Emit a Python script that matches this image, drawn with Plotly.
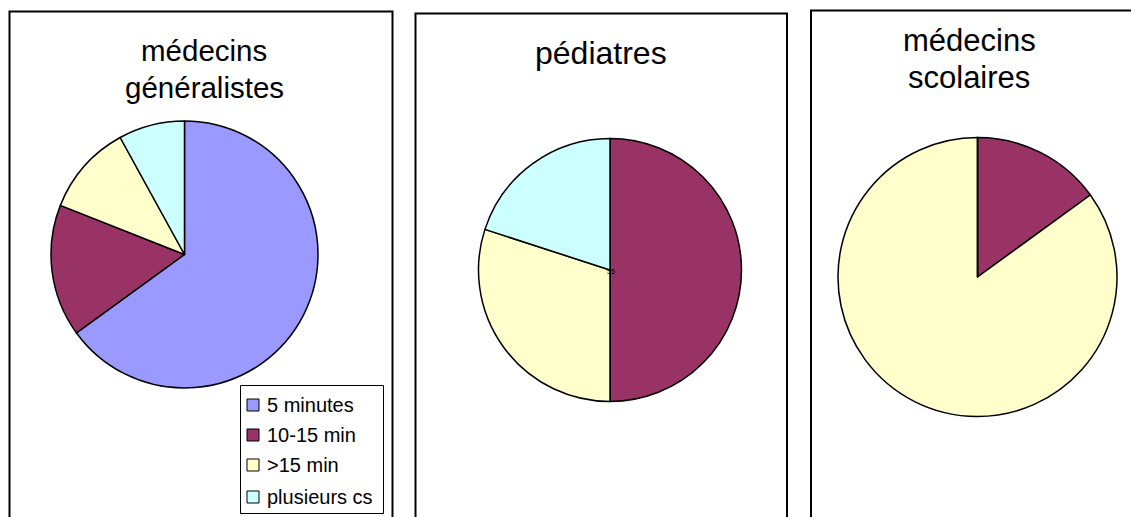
import plotly.graph_objects as go

W, H = 1139, 517
OFF = 8  # page body margin

categories = ["5 minutes", "10-15 min", ">15 min", "plusieurs cs"]
colors = ["#9999FF", "#993366", "#FFFFCC", "#CCFFFF"]

generalistes = [65, 16, 11, 8]
pediatres = [0, 50, 30, 20]
scolaires = [0, 15, 85, 0]

titles = [["médecins", "généralistes"], ["pédiatres"], ["médecins", "scolaires"]]

FW, FH = W - OFF, H - OFF


def X(px):
    return (px - OFF) / FW


def Y(py):
    return 1 - (py - OFF) / FH


fig = go.Figure()

pies = [(generalistes, 184.5, 254.5, 133.5), (pediatres, 610, 270, 131.5), (scolaires, 977.5, 277, 139.5)]
for vals, cx, cy, r in pies:
    fig.add_trace(go.Pie(
        labels=categories, values=vals, sort=False, direction="clockwise", rotation=0,
        marker=dict(colors=colors, line=dict(color="black", width=1.5)),
        textinfo="none", hoverinfo="label+value", showlegend=False,
        domain=dict(x=[X(cx - r), X(cx + r)], y=[Y(cy + r), Y(cy - r)]),
    ))

shapes = []
for x0, x1, top in [(9.5, 392.5, 11.5), (415.5, 787, 13.5), (811, 1160, 10.5)]:
    shapes.append(dict(type="rect", xref="paper", yref="paper", x0=X(x0), x1=X(x1), y0=Y(top), y1=Y(560),
                       line=dict(color="black", width=2), fillcolor="rgba(0,0,0,0)", layer="above"))

annotations = []
title_pos = [(204, [51, 87.5], 29.5), (601, [53], 32), (969, [40, 77], 31)]
for lines, (cx, ys, fs) in zip(titles, title_pos):
    for t, yy in zip(lines, ys):
        annotations.append(dict(text=t, x=X(cx), y=Y(yy), xref="paper", yref="paper", showarrow=False,
                                xanchor="center", yanchor="middle",
                                font=dict(family="Liberation Sans, Arial", size=fs, color="black")))

annotations.append(dict(text="55", x=X(611), y=Y(271), xref="paper", yref="paper", showarrow=False,
                        xanchor="center", yanchor="middle",
                        font=dict(family="Liberation Sans, Arial", size=7, color="black")))

shapes.append(dict(type="rect", xref="paper", yref="paper", x0=X(240.5), x1=X(383.5), y0=Y(513.5), y1=Y(385.5),
                   line=dict(color="black", width=1), fillcolor="white"))
item_y = [405, 435, 465, 497]
for cat, col, yy in zip(categories, colors, item_y):
    shapes.append(dict(type="rect", xref="paper", yref="paper", x0=X(247), x1=X(259), y0=Y(yy + 6), y1=Y(yy - 6),
                       line=dict(color="black", width=1), fillcolor=col))
    annotations.append(dict(text=cat, x=X(265), y=Y(yy), xref="paper", yref="paper", showarrow=False,
                            xanchor="left", yanchor="middle",
                            font=dict(family="Liberation Sans, Arial", size=20, color="black")))

fig.update_layout(width=FW, height=FH, margin=dict(l=0, r=0, t=0, b=0),
                  paper_bgcolor="white", plot_bgcolor="white",
                  shapes=shapes, annotations=annotations)

fig.write_html("out.html")
